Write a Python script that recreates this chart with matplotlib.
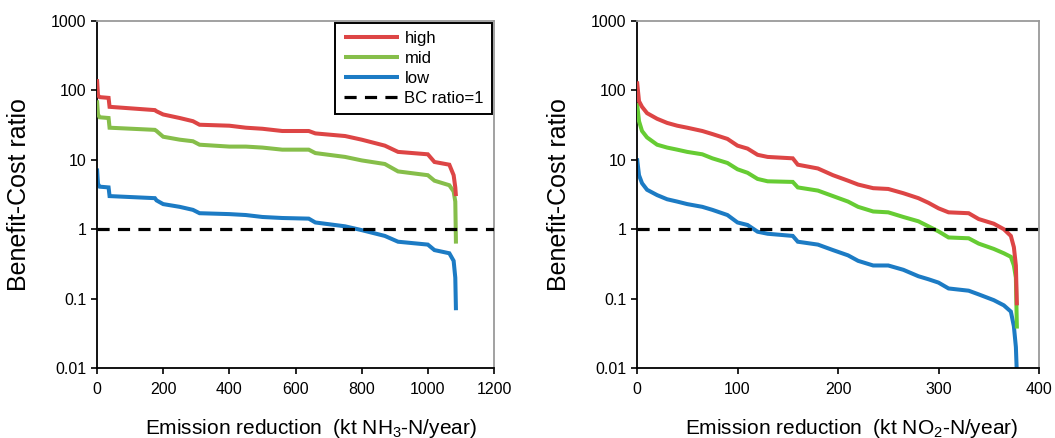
import numpy as np
import matplotlib
matplotlib.use('Agg')
import matplotlib.pyplot as plt
from matplotlib.ticker import FixedLocator, FuncFormatter, NullLocator

plt.rcParams['font.family'] = ['Liberation Sans', 'DejaVu Sans']
plt.rcParams['mathtext.fontset'] = 'custom'
plt.rcParams['mathtext.rm'] = 'Liberation Sans'
plt.rcParams['mathtext.it'] = 'Liberation Sans:italic'

# NH3 panel (left)
x_nh3 = [0, 3, 8, 35, 38, 175, 180, 200, 250, 290, 310, 400, 450, 500, 560,
         640, 660, 750, 800, 870, 910, 1000, 1020, 1065, 1078, 1083, 1085]
high_nh3 = [145, 85, 80, 78, 58, 52, 50, 45, 40, 36, 32, 31, 29, 28, 26,
            26, 24, 22, 19.5, 16, 13, 12, 9.3, 8.5, 6, 4, 3]
mid_nh3 = [72, 45, 41, 40, 29, 27, 26, 21.5, 19.5, 18.5, 16.5, 15.5, 15.5, 15, 14,
           14, 12.5, 11, 9.8, 8.7, 6.8, 6, 5, 4.3, 3.5, 2.5, 0.62]
low_nh3 = [7.5, 4.5, 4.1, 4.0, 3.0, 2.8, 2.6, 2.3, 2.1, 1.9, 1.7, 1.65, 1.6, 1.5, 1.45,
           1.42, 1.25, 1.1, 0.97, 0.8, 0.66, 0.6, 0.5, 0.45, 0.35, 0.2, 0.068]

# NO2 panel (right)
x_no2 = [0, 2, 5, 10, 20, 30, 40, 50, 65, 75, 90, 100, 110, 120, 130, 155, 160, 180,
         195, 210, 220, 235, 250, 265, 280, 290, 300, 310, 330, 340, 355, 365, 372,
         375, 377, 378]
high_no2 = [135, 70, 58, 47, 39, 34, 31, 29, 26, 23.5, 20, 16, 14.5, 11.8, 11, 10.5,
            8.5, 7.5, 6, 5, 4.4, 3.9, 3.8, 3.3, 2.8, 2.4, 2.0, 1.75, 1.7, 1.4, 1.2,
            1.0, 0.8, 0.55, 0.3, 0.08]
mid_no2 = [66, 36, 26, 21, 16.5, 15, 14, 13, 12, 10.5, 9, 7.3, 6.5, 5.3, 4.9, 4.8,
           4.0, 3.6, 3.0, 2.5, 2.1, 1.8, 1.75, 1.5, 1.3, 1.1, 0.93, 0.76, 0.74, 0.62,
           0.52, 0.45, 0.4, 0.3, 0.2, 0.037]
low_no2 = [10.5, 6, 4.6, 3.7, 3.1, 2.7, 2.5, 2.3, 2.1, 1.9, 1.6, 1.25, 1.15, 0.92,
           0.86, 0.8, 0.66, 0.6, 0.5, 0.42, 0.35, 0.3, 0.3, 0.26, 0.21, 0.19, 0.17,
           0.14, 0.13, 0.115, 0.095, 0.08, 0.065, 0.04, 0.02, 0.008]

y_ticks = [0.01, 0.1, 1, 10, 100, 1000]
series_labels = ['high', 'mid', 'low']

COLORS_L = {'high': '#dd4545', 'mid': '#86be4a', 'low': '#1c7bc4'}
COLORS_R = {'high': '#dd4545', 'mid': '#66cc33', 'low': '#1c7bc4'}

fig = plt.figure(figsize=(10.55, 4.38), dpi=100)
ax1 = fig.add_axes([97 / 1055, 70 / 438, 397 / 1055, 347 / 438])
ax2 = fig.add_axes([637 / 1055, 70 / 438, 402 / 1055, 347 / 438])


def style_axes(ax, xmax, xstep, xlabel):
    ax.set_yscale('log')
    ax.set_ylim(0.01, 1000)
    ax.set_xlim(0, xmax)
    ax.yaxis.set_major_locator(FixedLocator(y_ticks))
    ax.yaxis.set_major_formatter(FuncFormatter(lambda v, p: '%g' % v))
    ax.yaxis.set_minor_locator(NullLocator())
    ax.set_xticks(np.arange(0, xmax + 1, xstep))
    ax.tick_params(direction='out', length=4, width=1.2, labelsize=11.5, color='black')
    ax.tick_params(axis='x', pad=6)
    for side in ['left', 'bottom']:
        ax.spines[side].set_color('black')
        ax.spines[side].set_linewidth(1.3)
    for side in ['top', 'right']:
        ax.spines[side].set_color('#9a9a9a')
        ax.spines[side].set_linewidth(1.3)
    ax.set_ylabel('Benefit-Cost ratio', fontsize=18)
    ax.yaxis.set_label_coords(-0.165, 0.5)
    ax.set_xlabel(xlabel, fontsize=15)


def draw(ax, x, high, mid, low, colors):
    lines = {}
    for name, ys in zip(series_labels, [high, mid, low]):
        lines[name], = ax.plot(x, ys, color=colors[name], lw=2.9, label=name,
                               solid_capstyle='butt', solid_joinstyle='miter')
    # high on top, low at the bottom
    lines['high'].set_zorder(4)
    lines['mid'].set_zorder(3)
    lines['low'].set_zorder(2)
    bc = ax.axhline(1, color='black', lw=2.3, linestyle=(0, (3.8, 2.6)),
                    label='BC ratio=1', zorder=5)
    return [lines['high'], lines['mid'], lines['low'], bc]


handles = draw(ax1, x_nh3, high_nh3, mid_nh3, low_nh3, COLORS_L)
draw(ax2, x_no2, high_no2, mid_no2, low_no2, COLORS_R)

style_axes(ax1, 1200, 200, 'Emission reduction  (kt NH$_3$-N/year)')
style_axes(ax2, 400, 100, 'Emission reduction  (kt NO$_2$-N/year)')
ax1.xaxis.set_label_coords(0.539, -0.14)
ax2.xaxis.set_label_coords(0.535, -0.14)

leg = ax1.legend(handles=handles, loc='upper right', bbox_to_anchor=(1.0, 1.0),
                 borderaxespad=0.1, fontsize=12, handlelength=3.3,
                 handletextpad=0.35, labelspacing=0.3, fancybox=False,
                 framealpha=1, edgecolor='black', borderpad=0.5)
leg.get_frame().set_linewidth(1.4)

fig.savefig('out.png', dpi=100)
